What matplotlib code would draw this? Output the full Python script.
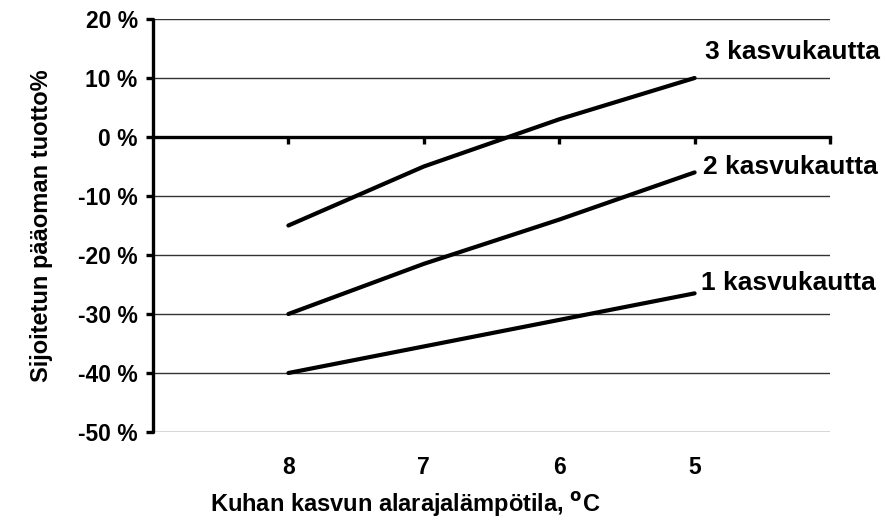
import matplotlib.pyplot as plt
import matplotlib.ticker as mticker

# === DATA ===
lampotila = [8, 7, 6, 5]
kasvu_3 = [-15, -5, 3, 10]
kasvu_2 = [-30, -21.5, -14, -6]
kasvu_1 = [-40, -35.5, -31, -26.5]
sarjat = [("3 kasvukautta", kasvu_3), ("2 kasvukautta", kasvu_2), ("1 kasvukautta", kasvu_1)]
y_ticks = [20, 10, 0, -10, -20, -30, -40, -50]

plt.rcParams['font.family'] = ['Liberation Sans', 'DejaVu Sans']
plt.rcParams['font.weight'] = 'bold'

fig = plt.figure(figsize=(8.85, 5.22), dpi=100)
ax = fig.add_axes([153 / 885, 1 - 432 / 522, (830 - 153) / 885, (432 - 19) / 522])

# gridlines
for yv in y_ticks:
    ax.axhline(yv, color='#333333', lw=1.0, zorder=1)

# series
for nimi, arvot in sarjat:
    ax.plot(lampotila, arvot, color='black', lw=3.0, solid_capstyle='round', zorder=3)

# labels at line ends
offsets = {"3 kasvukautta": (10, 26), "2 kasvukautta": (8, 5), "1 kasvukautta": (6, 10)}
for nimi, arvot in sarjat:
    ax.annotate(nimi, (lampotila[-1], arvot[-1]), xytext=offsets[nimi],
                textcoords='offset pixels', ha='left', va='center',
                fontsize=19, fontweight='bold')

ax.set_xlim(9, 4)
ax.set_ylim(-50, 20)

for s in ['top', 'right']:
    ax.spines[s].set_visible(False)
ax.spines['left'].set_linewidth(2.4)
ax.spines['left'].set_capstyle('round')
ax.spines['bottom'].set_position(('data', 0))
ax.spines['bottom'].set_linewidth(2.4)
ax.spines['bottom'].set_zorder(2)

ax.set_yticks(y_ticks)
ax.yaxis.set_major_formatter(mticker.FuncFormatter(lambda v, p: f"{int(v)} %"))
ax.tick_params(axis='y', direction='out', length=5, width=2.4, labelsize=16.5, pad=6)

ax.set_xticks(lampotila + [4])
ax.tick_params(axis='x', direction='out', length=5, width=2.4, labelbottom=False)

sec = ax.secondary_xaxis('bottom')
sec.set_xticks(lampotila)
sec.set_xticklabels([str(v) for v in lampotila])
sec.spines['bottom'].set_visible(False)
sec.tick_params(length=0, labelsize=16.5, pad=17)

ax.set_xlabel('Kuhan kasvun alarajalämpötila, $^{\\mathbf{o}}$C', fontsize=17, fontweight='bold')
ax.set_ylabel('Sijoitetun pääoman tuotto%', fontsize=17, fontweight='bold')
ax.yaxis.set_label_coords(-0.148, 0.50)
ax.xaxis.set_label_coords(0.372, -0.14)

fig.savefig('out.png', dpi=100)
